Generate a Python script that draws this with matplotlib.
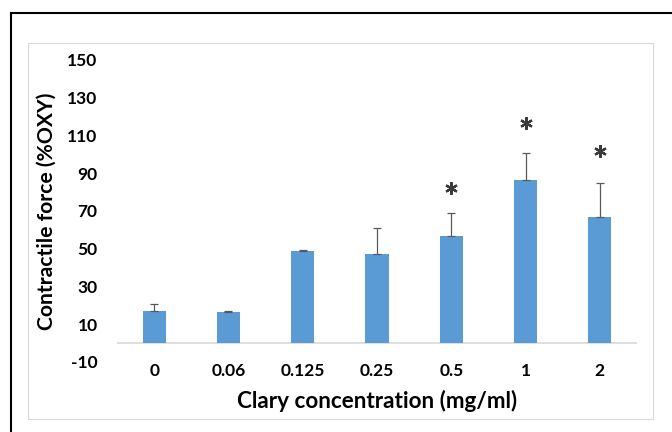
import matplotlib
matplotlib.use("Agg")
import matplotlib.pyplot as plt
from matplotlib.lines import Line2D
from matplotlib.patches import Rectangle
import numpy as np

categories = ["0", "0.06", "0.125", "0.25", "0.5", "1", "2"]
means = [17.1, 16.5, 48.7, 47.2, 56.8, 86.4, 66.9]
errors = [3.4, 0.3, 0.4, 13.8, 12.4, 14.3, 17.9]
star_categories = ["0.5", "1", "2"]
star_heights = [82.1, 116.4, 101.9]
y_ticks = [-10, 10, 30, 50, 70, 90, 110, 130, 150]

W, H = 672, 432
fig = plt.figure(figsize=(W / 100, H / 100), dpi=100)
plt.rcParams['font.family'] = ['Lato', 'DejaVu Sans']

# outer black frame (top + left visible)
fig.add_artist(Line2D([11 / W, 1.0], [1 - 13 / H, 1 - 13 / H], color='black', lw=1.5,
                      transform=fig.transFigure))
fig.add_artist(Line2D([11 / W, 11 / W], [0.0, 1 - 13 / H], color='black', lw=1.5,
                      transform=fig.transFigure))
# inner chart-area border
fig.add_artist(Rectangle((28 / W, 1 - 419 / H), (653 - 28) / W, (419 - 43) / H,
                         fill=False, edgecolor='#D9D9D9', lw=0.8, transform=fig.transFigure))

ax = fig.add_axes([117 / W, 1 - 362 / H, (637 - 117) / W, (362 - 60) / H])
x = np.arange(len(categories))
ax.bar(x, means, width=0.31, color='#5B9BD5', zorder=2)
ax.errorbar(x, means, yerr=[np.zeros(len(errors)), errors], fmt='none',
            ecolor='#595959', elinewidth=0.9, capsize=3, capthick=0.9, zorder=3)
ax.axhline(0, color='#D9D9D9', lw=1.2, zorder=1)

sx = [categories.index(c) for c in star_categories]
ax.plot(sx, star_heights, linestyle='none', marker=(6, 2, 0), markersize=9,
        markeredgewidth=1.6, color='#3a3a3a')

ax.set_xlim(-0.5, len(categories) - 0.5)
ax.set_ylim(-10, 150)
ax.set_xticks(x)
ax.set_xticklabels(categories)
ax.set_yticks(y_ticks)
ax.set_yticklabels([str(v) for v in y_ticks])
for s in ax.spines.values():
    s.set_visible(False)
ax.tick_params(axis='both', length=0, labelsize=12.5, labelcolor='black')
ax.tick_params(axis='y', pad=14)
ax.tick_params(axis='x', pad=1)
for lab in ax.get_xticklabels() + ax.get_yticklabels():
    lab.set_fontweight('bold')

fig.text(47 / W, 1 - 211 / H, "Contractile force (%OXY)", rotation=90,
         ha='center', va='center', fontsize=15.2, fontweight='bold', color='black')
fig.text(377 / W, 1 - 401 / H, "Clary concentration (mg/ml)",
         ha='center', va='center', fontsize=16.2, fontweight='bold', color='black')

fig.savefig("out.png", dpi=100)
